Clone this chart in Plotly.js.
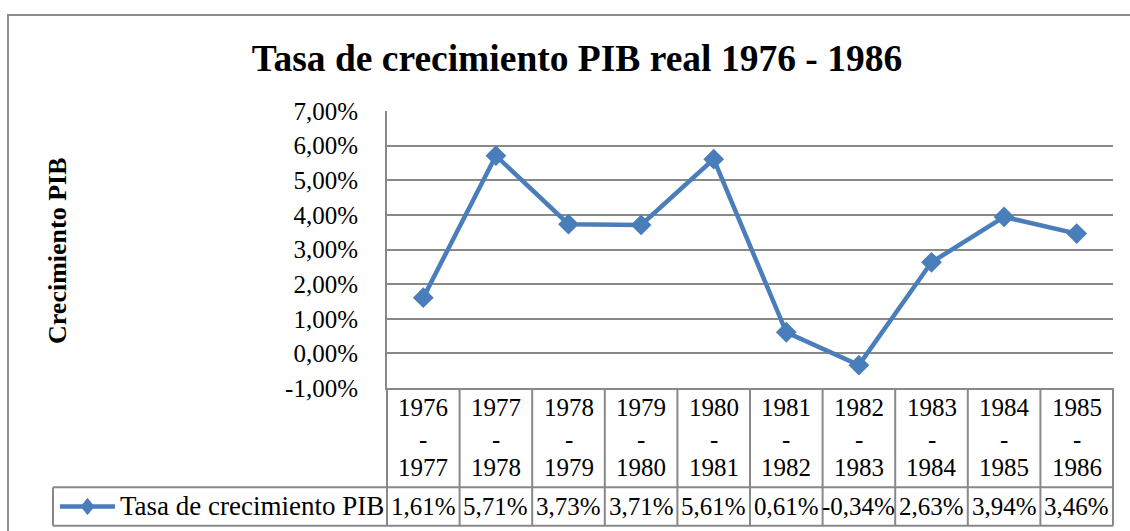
<!DOCTYPE html>
<html>
<head>
<meta charset="utf-8">
<script src="https://cdn.plot.ly/plotly-3.0.1.min.js"></script>
<style>
html,body{margin:0;padding:0;background:#fff;}
#chart{width:1130px;height:531px;}
</style>
</head>
<body>
<div id="chart"></div>
<script>
// ---- data ----
var periodStart = ["1976","1977","1978","1979","1980","1981","1982","1983","1984","1985"];
var periodEnd   = ["1977","1978","1979","1980","1981","1982","1983","1984","1985","1986"];
var growth = [1.61, 5.71, 3.73, 3.71, 5.61, 0.61, -0.34, 2.63, 3.94, 3.46]; // percent
var yTicks = [-1, 0, 1, 2, 3, 4, 5, 6, 7]; // percent
var seriesName = "Tasa de crecimiento PIB";
var chartTitle = "Tasa de crecimiento PIB real 1976 - 1986";
var yTitle = "Crecimiento PIB";

// ---- layout constants ----
var W = 1130, H = 531;
var L = 387, R = 1113, T = 111, B = 388;
var PW = R - L, PH = B - T;
function px2x(p){ return (p - L) / PW; }
function px2y(p){ return (B - p) / PH; }

var FONT = "Liberation Serif, Times New Roman, serif";
var GRID = "#898989";
var BLUE = "#4A7EBB";

var idx = periodStart.map(function(_, i){ return i; });
function fmt(v){ return v.toFixed(2).replace(".", ",") + "%"; }

var trace = {
  x: idx, y: growth, type: "scatter", mode: "lines+markers", name: seriesName,
  line: {color: BLUE, width: 4.5},
  marker: {symbol: "diamond", size: 16, color: BLUE},
  cliponaxis: false, hoverinfo: "skip", showlegend: false
};

var rowMid = 487.3, rowBot = 525.7, legLeft = 53;
var shapes = [];
// outer chart frame
shapes.push({type:"rect", xref:"paper", yref:"paper", x0:px2x(8), x1:px2x(1140), y0:px2y(545), y1:px2y(15),
  line:{color:"#8c8c8c", width:2}, layer:"below"});
// table horizontal lines
shapes.push({type:"line", xref:"paper", yref:"paper", x0:px2x(legLeft), x1:1, y0:px2y(rowMid), y1:px2y(rowMid), line:{color:GRID, width:2}});
shapes.push({type:"line", xref:"paper", yref:"paper", x0:px2x(legLeft), x1:1, y0:px2y(rowBot), y1:px2y(rowBot), line:{color:GRID, width:2}});
// left edge of legend cell
shapes.push({type:"line", xref:"paper", yref:"paper", x0:px2x(legLeft), x1:px2x(legLeft), y0:px2y(rowMid), y1:px2y(rowBot), line:{color:GRID, width:2}});
// left axis extension through the table
shapes.push({type:"line", xref:"paper", yref:"paper", x0:0, x1:0, y0:0, y1:px2y(rowBot), line:{color:GRID, width:2}});
// right table edge
shapes.push({type:"line", xref:"paper", yref:"paper", x0:1, x1:1, y0:0, y1:px2y(rowBot), line:{color:GRID, width:2}});
// category boundaries
for (var k = 1; k < periodStart.length; k++) {
  shapes.push({type:"line", xref:"x", yref:"paper", x0:k-0.5, x1:k-0.5, y0:0, y1:px2y(rowBot), line:{color:GRID, width:2}});
}
// legend key (line + diamond)
shapes.push({type:"line", xref:"paper", yref:"paper", x0:px2x(60), x1:px2x(115), y0:px2y(506.5), y1:px2y(506.5), line:{color:BLUE, width:4.5}});
shapes.push({type:"path", xref:"paper", yref:"paper", xsizemode:"pixel", ysizemode:"pixel",
  xanchor:px2x(87.5), yanchor:px2y(506.5), path:"M0,8 L6.5,0 L0,-8 L-6.5,0 Z",
  fillcolor:BLUE, line:{color:BLUE, width:1}});

var tf = {family:FONT, size:25, color:"#000"};
var annotations = [];
// y title
annotations.push({xref:"paper", yref:"paper", x:px2x(57), y:px2y(251), text:"<b>" + yTitle + "</b>",
  textangle:-90, showarrow:false, font:{family:FONT, size:26, color:"#000"}, xanchor:"center", yanchor:"middle"});
// legend text
annotations.push({xref:"paper", yref:"paper", x:px2x(118), y:px2y(506.5), text:seriesName,
  showarrow:false, font:{family:FONT, size:27, color:"#000"}, xanchor:"left", yanchor:"middle"});
// category rows and value row
idx.forEach(function(i){
  annotations.push({xref:"x", yref:"paper", x:i, y:px2y(407.5), text:periodStart[i], showarrow:false, font:tf, xanchor:"center", yanchor:"middle"});
  annotations.push({xref:"x", yref:"paper", x:i, y:px2y(439), text:"-", showarrow:false, font:tf, xanchor:"center", yanchor:"middle"});
  annotations.push({xref:"x", yref:"paper", x:i, y:px2y(467.5), text:periodEnd[i], showarrow:false, font:tf, xanchor:"center", yanchor:"middle"});
  annotations.push({xref:"x", yref:"paper", x:i, y:px2y(506.5), text:fmt(growth[i]), showarrow:false, font:tf, xanchor:"center", yanchor:"middle"});
});

var layout = {
  width: W, height: H,
  margin: {l: L, r: W - R, t: T, b: H - B, pad: 0},
  paper_bgcolor: "#fff", plot_bgcolor: "#fff",
  title: {text: "<b>" + chartTitle + "</b>", font: {family: FONT, size: 37.5, color: "#000"},
          xref: "container", x: 577 / W, xanchor: "center", yref: "container", y: 1 - 58 / H, yanchor: "middle"},
  font: {family: FONT, size: 25, color: "#000"},
  showlegend: false,
  xaxis: {
    range: [-0.5, periodStart.length - 0.5], showticklabels: false,
    showgrid: false, zeroline: false, showline: true, linecolor: GRID, linewidth: 2,
    ticks: "", fixedrange: true
  },
  yaxis: {
    range: [-1, 7], tickvals: yTicks, ticktext: yTicks.map(fmt),
    showgrid: true, gridcolor: GRID, gridwidth: 2, zeroline: false,
    showline: true, linecolor: GRID, linewidth: 2,
    ticks: "", ticklabelstandoff: 22, tickfont: tf,
    fixedrange: true
  },
  shapes: shapes,
  annotations: annotations
};

Plotly.newPlot("chart", [trace], layout, {displayModeBar: false, staticPlot: true});
</script>
</body>
</html>
